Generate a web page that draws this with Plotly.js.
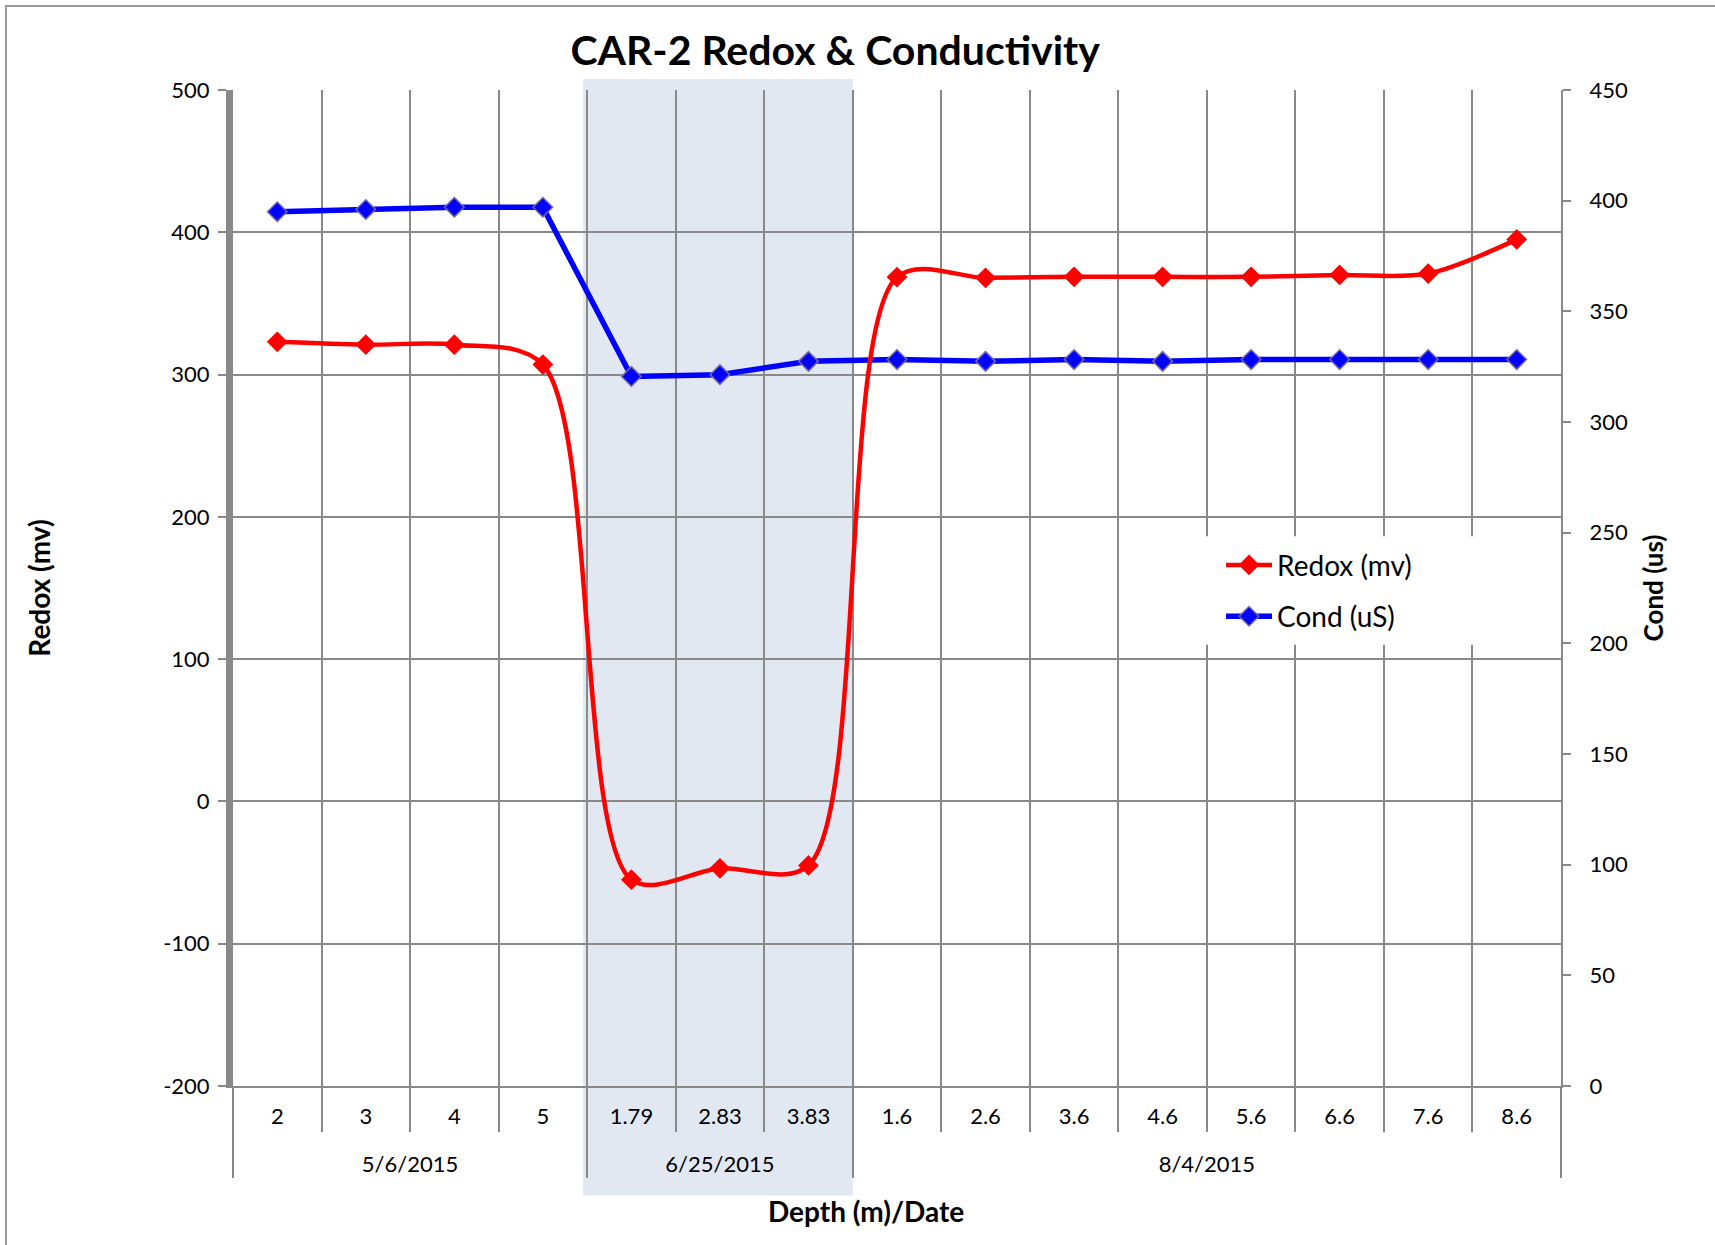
<!DOCTYPE html>
<html>
<head>
<meta charset="utf-8">
<script src="https://cdn.plot.ly/plotly-3.0.1.min.js"></script>
<style>
  body { margin: 0; background: #fff; }
  #wrap { position: relative; width: 1715px; height: 1245px; }
  #chart { width: 1715px; height: 1245px; }
  #frame { position: absolute; left: 5px; top: 5px; right: 0; bottom: 0;
           border-top: 2px solid #999; border-left: 2px solid #999; pointer-events: none; }
</style>
</head>
<body>
<div id="wrap">
  <div id="chart"></div>
  <div id="frame"></div>
</div>
<script>
var dates = ['5/6/2015', '5/6/2015', '5/6/2015', '5/6/2015',
             '6/25/2015', '6/25/2015', '6/25/2015',
             '8/4/2015', '8/4/2015', '8/4/2015', '8/4/2015', '8/4/2015', '8/4/2015', '8/4/2015', '8/4/2015'];
var depths = ['2', '3', '4', '5', '1.79', '2.83', '3.83', '1.6', '2.6', '3.6', '4.6', '5.6', '6.6', '7.6', '8.6'];
var redox = [323, 321, 321, 307, -55, -47, -45, 368.5, 368, 368.7, 368.7, 368.7, 370, 371, 395];
var cond = [395, 396, 397, 397, 320.6, 321.4, 327.4, 328.2, 327.4, 328.2, 327.4, 328.2, 328.2, 328.2, 328.2];

// left axis ticks (plain hyphen like the original)
var redoxTicks = [-200, -100, 0, 100, 200, 300, 400, 500];
var redoxTickText = ['-200', '-100', '0', '100', '200', '300', '400', '500'];

var font = 'Lato, "Open Sans", sans-serif';
var grey = '#898989';

// date row sits one line lower, under the depth row
var dateRow = dates.map(function(d) { return '<br>' + d; });

var traceCond = {
    x: [dateRow, depths],
    y: cond,
    yaxis: 'y',
    mode: 'lines+markers',
    name: 'Cond (uS)',
    legendgroup: 'b',
    line: {color: '#0000ff', width: 5.5},
    marker: {symbol: 'diamond', size: 15, color: '#0000ff', line: {color: '#7466a8', width: 1.5}}
};

var traceRedox = {
    x: [dateRow, depths],
    y: redox,
    yaxis: 'y2',
    mode: 'lines+markers',
    name: 'Redox (mv)',
    legendgroup: 'a',
    line: {color: '#ff0000', width: 4.5, shape: 'spline', smoothing: 0.9},
    marker: {symbol: 'diamond', size: 16, color: '#ff0000'}
};

var data = [traceRedox, traceCond];

var layout = {
    width: 1715,
    height: 1245,
    margin: {l: 233, r: 154, t: 90, b: 159},
    paper_bgcolor: '#ffffff',
    plot_bgcolor: 'rgba(0,0,0,0)',
    font: {family: font, size: 22, color: '#000'},
    title: {
        text: '<b>CAR-2 Redox & Conductivity</b>',
        font: {family: font, size: 41, color: '#000'},
        xref: 'container', x: 0.487, xanchor: 'center',
        yref: 'container', y: 0.959, yanchor: 'middle'
    },
    showlegend: true,
    legend: {
        x: 0.744, y: 0.548, xanchor: 'left', yanchor: 'top',
        bgcolor: '#ffffff',
        font: {family: font, size: 28},
        tracegroupgap: 12,
        traceorder: 'grouped',
        itemwidth: 46
    },
    xaxis: {
        type: 'multicategory',
        range: [-0.5, 14.5],
        tickfont: {family: font, size: 22},
        ticks: 'outside', ticklen: 44, tickwidth: 2, tickcolor: grey,
        ticklabelstandoff: 10,
        showdividers: true, dividercolor: grey, dividerwidth: 2,
        showgrid: true, gridcolor: grey, gridwidth: 2,
        showline: true, linecolor: grey, linewidth: 2,
        zeroline: false
    },
    yaxis: {
        title: {text: '<b>Cond (us)</b>', font: {family: font, size: 26}, standoff: 18},
        side: 'right',
        range: [0, 450], dtick: 50,
        ticks: 'outside', ticklen: 8, tickwidth: 2, tickcolor: grey,
        ticklabelstandoff: 14,
        showgrid: false, zeroline: false,
        showline: true, linecolor: grey, linewidth: 2
    },
    yaxis2: {
        title: {text: '<b>Redox (mv)</b>', font: {family: font, size: 28}, standoff: 107},
        side: 'left', overlaying: 'y',
        range: [-200, 500],
        tickmode: 'array', tickvals: redoxTicks, ticktext: redoxTickText,
        ticks: 'outside', ticklen: 8, tickwidth: 2, tickcolor: grey,
        ticklabelstandoff: 4,
        showgrid: true, gridcolor: grey, gridwidth: 2,
        zeroline: false,
        showline: true, linecolor: grey, linewidth: 7
    },
    annotations: [{
        text: '<b>Depth (m)/Date</b>',
        font: {family: font, size: 28, color: '#000'},
        xref: 'paper', x: 0.477, xanchor: 'center',
        yref: 'paper', y: -0.1255, yanchor: 'middle',
        showarrow: false
    }],
    shapes: [{
        // shaded 6/25/2015 block
        type: 'rect', layer: 'below',
        xref: 'x', x0: 3.455, x1: 6.5,
        yref: 'paper', y0: -0.11, y1: 1.011,
        fillcolor: '#e1e8f2', line: {width: 0}
    }, {
        // white panel behind the legend, out to the right axis
        type: 'rect', layer: 'above',
        xref: 'paper', x0: 0.73, x1: 0.998,
        yref: 'paper', y0: 0.443, y1: 0.552,
        fillcolor: '#ffffff', line: {width: 0}
    }]
};

var config = {displayModeBar: false};

Plotly.newPlot('chart', data, layout, config);
</script>
</body>
</html>
